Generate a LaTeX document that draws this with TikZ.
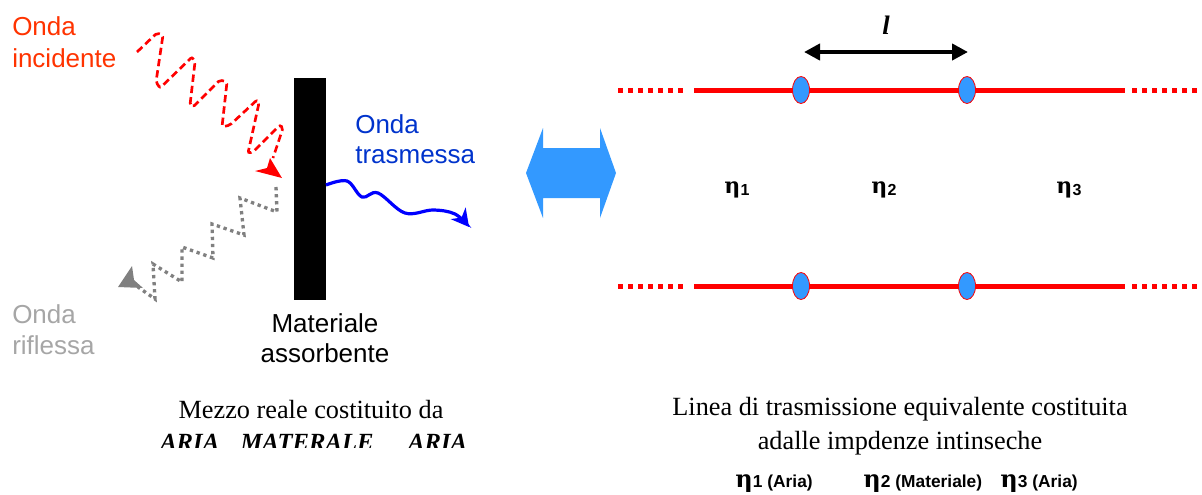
\documentclass[tikz,border=0pt]{standalone}
\usepackage{fontspec}
\setmainfont{Liberation Serif}
\setsansfont{Liberation Sans}
\newfontfamily\etafont{DejaVu Serif}
\usetikzlibrary{arrows.meta,shapes.geometric}

\definecolor{incred}{HTML}{FF3300}
\definecolor{trblue}{HTML}{0033CC}
\definecolor{rfgray}{HTML}{A6A6A6}
\definecolor{wavegray}{HTML}{808080}
\definecolor{skyblue}{HTML}{3399FF}

% eta with a sans subscript digit (upper labels)
\newcommand\etasub[1]{{\etafont\bfseries\fontsize{16.5}{17}\selectfont η}\kern0.2pt\raisebox{-1.5pt}{\sffamily\bfseries\fontsize{12}{12}\selectfont #1}}
% eta with index and medium name (legend row)
\newcommand\etaname[2]{{\etafont\bfseries\fontsize{18}{19}\selectfont η}\kern0.2pt{\sffamily\bfseries\fontsize{13}{13}\selectfont #1 #2}}

\begin{document}
\begin{tikzpicture}[x=0.75pt,y=-0.75pt,
  lbl/.style={inner sep=0pt, anchor=base west, font=\sffamily\fontsize{19.5}{22}\selectfont},
  lblc/.style={inner sep=0pt, anchor=base, font=\sffamily\fontsize{19.5}{22}\selectfont},
  capt/.style={inner sep=0pt, anchor=base, font=\rmfamily\fontsize{19.7}{23}\selectfont},
  etalabel/.style={inner sep=0pt, anchor=base},
  junction/.style={ellipse, draw=red, line width=0.6pt, fill=skyblue,
                   minimum width=12.75pt, minimum height=20.25pt, inner sep=0pt},
  solidline/.style={red, line width=3.75pt},
  dottedline/.style={red, line width=3.75pt, dash pattern=on 3.75pt off 3.75pt},
  incwave/.style={red, line width=2pt, dash pattern=on 5.5pt off 3pt, rounded corners=1.5pt},
  refwave/.style={wavegray, line width=2.5pt, dash pattern=on 2.5pt off 2.8pt},
  trwave/.style={blue, line width=2.4pt},
]
\useasboundingbox (0,0) rectangle (1202,494);

% ---------------- left: real medium ----------------
\node (bar) [fill=black, inner sep=0pt, minimum width=24pt, minimum height=166.5pt] at (310,189) {};

% incident wave (red, dashed)
\draw[incwave] (137,52) -- (157,33) -- (163,35) -- (156,82) -- (160,88) -- (192,57) -- (195,62)
  -- (190,105) -- (193,107) -- (220,80) -- (227,82) -- (222,127) -- (230,125) -- (257,100)
  -- (259,103) -- (248,153) -- (253,152) -- (280,125) -- (283,128) -- (273,158);
\fill[red] (282,178) -- (255,171) -- (267,168) -- (270,158) -- cycle;

% reflected wave (grey, dotted)
\draw[refwave] (276,187) -- (277,212) -- (240,198) -- (244,235) -- (212,224) -- (213,258)
  -- (182,247) -- (182,282) -- (153,264) -- (155,299) -- (138,287);
\fill[wavegray] (118,287) -- (132,266) -- (134,280) -- (143,288) -- cycle;

% transmitted wave (blue)
\draw[trwave, -{Stealth[length=13pt,width=14pt,inset=4pt]}]
  plot[smooth, tension=0.6] coordinates {(326,185) (347,181) (362,197) (378,193) (405,213) (433,210) (455,214) (469,227)};

% labels
\node (inc1) [lbl, text=incred] at (12,35) {Onda};
\node (inc2) [lbl, text=incred] at (12,67) {incidente};
\node (tr1) [lbl, text=trblue] at (355,133) {Onda};
\node (tr2) [lbl, text=trblue] at (355,163) {trasmessa};
\node (rf1) [lbl, text=rfgray] at (12,323) {Onda};
\node (rf2) [lbl, text=rfgray] at (12,354) {riflessa};
\node (mat1) [lblc] at (325,332) {Materiale};
\node (mat2) [lblc] at (325,362) {assorbente};

\node (cap1) [capt] at (311,418) {Mezzo reale costituito da};
\begin{scope}
  \clip (0,0) rectangle (1202,447);
  \node (cap2) [inner sep=0pt, anchor=base west, font=\rmfamily\bfseries\itshape\fontsize{18.5}{20}\selectfont]
    at (160,450) {ARIA\hspace{16pt}MATERALE\hspace{26pt}ARIA};
\end{scope}

% ---------------- equivalence arrow ----------------
\fill[skyblue] (526,173) -- (543,128) -- (543,148) -- (600,148) -- (600,128) -- (616,173)
  -- (600,218) -- (600,198) -- (543,198) -- (543,218) -- cycle;

% ---------------- right: equivalent transmission line ----------------
\coordinate (tL0) at (618,90);  \coordinate (tL1) at (688,90);
\coordinate (tS0) at (694,90);  \coordinate (tS1) at (1125,90);
\coordinate (tR0) at (1132,90); \coordinate (tR1) at (1202,90);
\coordinate (bL0) at (618,286);  \coordinate (bL1) at (688,286);
\coordinate (bS0) at (694,286);  \coordinate (bS1) at (1125,286);
\coordinate (bR0) at (1132,286); \coordinate (bR1) at (1202,286);

\draw[dottedline] (tL0) -- (tL1);
\draw[solidline] (tS0) -- (tS1);
\draw[dottedline] (tR0) -- (tR1);
\draw[dottedline] (bL0) -- (bL1);
\draw[solidline] (bS0) -- (bS1);
\draw[dottedline] (bR0) -- (bR1);

\node (t1) [junction] at (801,90) {};
\node (t2) [junction] at (967,90) {};
\node (b1) [junction] at (801,286) {};
\node (b2) [junction] at (967,286) {};

% length of the middle section
\coordinate (la) at (804,52);
\coordinate (lb) at (968,52);
\draw[line width=3pt, {Triangle[length=12pt,width=12pt]}-{Triangle[length=12pt,width=12pt]}] (la) -- (lb);
\node (lname) [inner sep=0pt, anchor=base, font=\rmfamily\bfseries\itshape\fontsize{20}{20}\selectfont] at (886,34) {l};

\node (eta1) [etalabel] at (737,193) {\etasub{1}};
\node (eta2) [etalabel] at (884,193) {\etasub{2}};
\node (eta3) [etalabel] at (1069,193) {\etasub{3}};

\node (cap3) [capt] at (900,415) {Linea di trasmissione equivalente costituita};
\node (cap4) [capt] at (900,449) {adalle impdenze intinseche};
\node (leg1) [inner sep=0pt, anchor=base west] at (735,487) {\etaname{1}{(Aria)}};
\node (leg2) [inner sep=0pt, anchor=base west] at (863,487) {\etaname{2}{(Materiale)}};
\node (leg3) [inner sep=0pt, anchor=base west] at (1000,487) {\etaname{3}{(Aria)}};
\end{tikzpicture}
\end{document}
